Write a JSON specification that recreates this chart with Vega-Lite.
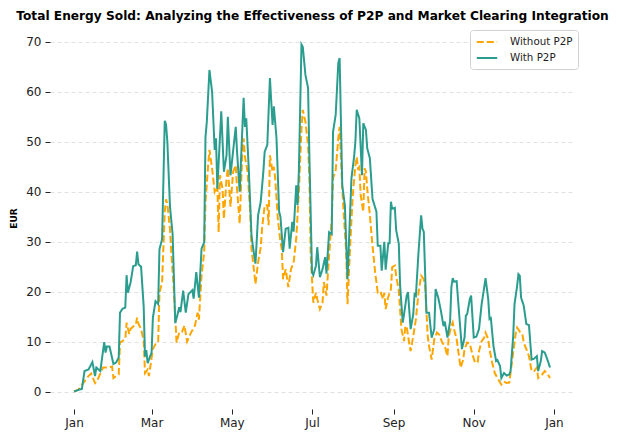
{
  "$schema": "https://vega.github.io/schema/vega-lite/v6.json",
  "width": 525,
  "height": 382,
  "autosize": {"type": "none"},
  "padding": {"left": 50, "top": 27, "right": 42, "bottom": 23},
  "background": "white",
  "config": {
    "view": {"stroke": null},
    "font": "DejaVu Sans",
    "axis": {"labelFont": "DejaVu Sans", "labelFontSize": 12, "labelColor": "#222", "tickColor": "#222", "domain": false},
    "legend": {"symbolType": "M-1.7,0H1.7", "symbolSize": 144, "symbolStrokeWidth": 2, "symbolOffset": 5, "labelOffset": 16}
  },
  "title": {
    "text": "Total Energy Sold: Analyzing the Effectiveness of P2P and Market Clearing Integration",
    "font": "DejaVu Sans",
    "fontSize": 12.2,
    "fontWeight": "bold",
    "color": "#000",
    "anchor": "middle",
    "offset": 5
  },
  "datasets": {
    "without": [
      {"d":"2023-01-01","v":0},{"d":"2023-01-04","v":0.3},{"d":"2023-01-08","v":1.7},{"d":"2023-01-12","v":3.1},{"d":"2023-01-14","v":3.6},{"d":"2023-01-17","v":1.7},{"d":"2023-01-19","v":2.4},{"d":"2023-01-23","v":4.8},{"d":"2023-01-27","v":4.8},{"d":"2023-01-30","v":5},{"d":"2023-01-31","v":2.7},
      {"d":"2023-02-02","v":3.1},{"d":"2023-02-04","v":3.4},{"d":"2023-02-05","v":9.8},{"d":"2023-02-09","v":10.5},{"d":"2023-02-10","v":13.8},{"d":"2023-02-12","v":11.5},{"d":"2023-02-13","v":12.5},{"d":"2023-02-15","v":13},{"d":"2023-02-17","v":13.4},{"d":"2023-02-18","v":14.8},{"d":"2023-02-19","v":13.6},{"d":"2023-02-21","v":12.5},{"d":"2023-02-23","v":10.2},{"d":"2023-02-24","v":3.7},{"d":"2023-02-26","v":4.4},{"d":"2023-02-27","v":3.1},
      {"d":"2023-03-02","v":8.5},{"d":"2023-03-04","v":9.5},{"d":"2023-03-06","v":9.9},{"d":"2023-03-07","v":19.8},{"d":"2023-03-09","v":21.9},{"d":"2023-03-11","v":36},{"d":"2023-03-12","v":38.5},{"d":"2023-03-13","v":37.5},{"d":"2023-03-15","v":32.5},{"d":"2023-03-16","v":28},{"d":"2023-03-18","v":20},{"d":"2023-03-20","v":9.8},{"d":"2023-03-22","v":11.8},{"d":"2023-03-24","v":11.8},{"d":"2023-03-26","v":13.2},{"d":"2023-03-28","v":10},{"d":"2023-03-31","v":11.8},
      {"d":"2023-04-03","v":13.2},{"d":"2023-04-05","v":15.8},{"d":"2023-04-06","v":14.4},{"d":"2023-04-08","v":23.2},{"d":"2023-04-10","v":27.9},{"d":"2023-04-11","v":38},{"d":"2023-04-13","v":45.3},{"d":"2023-04-14","v":48.4},{"d":"2023-04-16","v":44.7},{"d":"2023-04-18","v":40},{"d":"2023-04-20","v":41.2},{"d":"2023-04-21","v":31.9},{"d":"2023-04-22","v":43.3},{"d":"2023-04-24","v":40.6},{"d":"2023-04-25","v":34.6},{"d":"2023-04-27","v":42.7},{"d":"2023-04-28","v":44.7},{"d":"2023-04-30","v":37},
      {"d":"2023-05-02","v":44},{"d":"2023-05-04","v":45.3},{"d":"2023-05-05","v":40.6},{"d":"2023-05-07","v":33.6},{"d":"2023-05-09","v":48},{"d":"2023-05-10","v":50.7},{"d":"2023-05-11","v":47},{"d":"2023-05-13","v":44},{"d":"2023-05-15","v":36},{"d":"2023-05-16","v":28.6},{"d":"2023-05-18","v":23.9},{"d":"2023-05-19","v":21.5},{"d":"2023-05-21","v":25.9},{"d":"2023-05-23","v":28.9},{"d":"2023-05-24","v":32.6},{"d":"2023-05-26","v":37.3},{"d":"2023-05-28","v":37.3},{"d":"2023-05-29","v":33.3},{"d":"2023-05-30","v":47.3},
      {"d":"2023-06-01","v":44},{"d":"2023-06-02","v":45},{"d":"2023-06-03","v":42.7},{"d":"2023-06-05","v":34.6},{"d":"2023-06-07","v":29.9},{"d":"2023-06-08","v":28.6},{"d":"2023-06-09","v":22.5},{"d":"2023-06-11","v":24.5},{"d":"2023-06-13","v":20.9},{"d":"2023-06-15","v":24.5},{"d":"2023-06-17","v":25.8},{"d":"2023-06-19","v":30.6},{"d":"2023-06-21","v":40},{"d":"2023-06-23","v":52.7},{"d":"2023-06-24","v":56.4},{"d":"2023-06-26","v":54},{"d":"2023-06-28","v":49.4},{"d":"2023-06-29","v":42.7},{"d":"2023-06-30","v":27.2},
      {"d":"2023-07-02","v":17.8},{"d":"2023-07-04","v":19.8},{"d":"2023-07-05","v":18.5},{"d":"2023-07-07","v":16.5},{"d":"2023-07-09","v":17.8},{"d":"2023-07-10","v":21.9},{"d":"2023-07-12","v":19.2},{"d":"2023-07-14","v":27.2},{"d":"2023-07-16","v":34.6},{"d":"2023-07-17","v":42.7},{"d":"2023-07-19","v":44.3},{"d":"2023-07-21","v":50.7},{"d":"2023-07-22","v":53},{"d":"2023-07-24","v":40.6},{"d":"2023-07-26","v":31.9},{"d":"2023-07-27","v":27.9},{"d":"2023-07-28","v":17.5},{"d":"2023-07-30","v":29.2},
      {"d":"2023-08-01","v":39.3},{"d":"2023-08-03","v":45.3},{"d":"2023-08-04","v":47},{"d":"2023-08-05","v":44.7},{"d":"2023-08-06","v":45},{"d":"2023-08-07","v":39.3},{"d":"2023-08-09","v":36},{"d":"2023-08-10","v":44.7},{"d":"2023-08-11","v":44},{"d":"2023-08-12","v":40.6},{"d":"2023-08-14","v":35.3},{"d":"2023-08-16","v":29.2},{"d":"2023-08-18","v":23.9},{"d":"2023-08-20","v":19.8},{"d":"2023-08-22","v":20},{"d":"2023-08-24","v":18.5},{"d":"2023-08-25","v":19.8},{"d":"2023-08-26","v":16.5},{"d":"2023-08-28","v":19},{"d":"2023-08-30","v":20.5},{"d":"2023-08-31","v":24.9},
      {"d":"2023-09-02","v":25.2},{"d":"2023-09-03","v":23.2},{"d":"2023-09-05","v":20.2},{"d":"2023-09-07","v":12.5},{"d":"2023-09-09","v":10.1},{"d":"2023-09-10","v":13.1},{"d":"2023-09-11","v":13},{"d":"2023-09-13","v":9.5},{"d":"2023-09-14","v":8.1},{"d":"2023-09-16","v":11.1},{"d":"2023-09-18","v":14.5},{"d":"2023-09-20","v":19.8},{"d":"2023-09-22","v":23.2},{"d":"2023-09-24","v":22.5},{"d":"2023-09-25","v":21.2},{"d":"2023-09-27","v":11.1},{"d":"2023-09-28","v":9.1},{"d":"2023-09-30","v":6.4},
      {"d":"2023-10-02","v":10.5},{"d":"2023-10-04","v":11.8},{"d":"2023-10-06","v":11.3},{"d":"2023-10-08","v":9.8},{"d":"2023-10-10","v":9.1},{"d":"2023-10-12","v":7.1},{"d":"2023-10-13","v":11.1},{"d":"2023-10-15","v":13.1},{"d":"2023-10-16","v":13.8},{"d":"2023-10-17","v":12.5},{"d":"2023-10-19","v":10.5},{"d":"2023-10-20","v":8.5},{"d":"2023-10-22","v":4.8},{"d":"2023-10-24","v":6.4},{"d":"2023-10-25","v":8.5},{"d":"2023-10-27","v":9.8},{"d":"2023-10-29","v":9.6},{"d":"2023-10-31","v":7.4},
      {"d":"2023-11-02","v":5.8},{"d":"2023-11-04","v":5.9},{"d":"2023-11-05","v":8.1},{"d":"2023-11-07","v":10.1},{"d":"2023-11-09","v":10.8},{"d":"2023-11-10","v":11.8},{"d":"2023-11-12","v":10.5},{"d":"2023-11-13","v":8.5},{"d":"2023-11-15","v":5.8},{"d":"2023-11-17","v":3.7},{"d":"2023-11-19","v":2.7},{"d":"2023-11-22","v":1.4},{"d":"2023-11-24","v":2},{"d":"2023-11-26","v":1.7},{"d":"2023-11-28","v":1.8},{"d":"2023-11-29","v":3.7},
      {"d":"2023-12-01","v":7.8},{"d":"2023-12-03","v":11.8},{"d":"2023-12-04","v":12.8},{"d":"2023-12-06","v":12},{"d":"2023-12-08","v":11.5},{"d":"2023-12-09","v":9.8},{"d":"2023-12-11","v":8.5},{"d":"2023-12-13","v":7.1},{"d":"2023-12-15","v":4.1},{"d":"2023-12-17","v":4.1},{"d":"2023-12-19","v":4.8},{"d":"2023-12-20","v":2.7},{"d":"2023-12-23","v":3.4},{"d":"2023-12-25","v":4.1},{"d":"2023-12-27","v":3.6},{"d":"2023-12-29","v":2.7}
    ],
    "with": [
      {"d":"2023-01-01","v":0},{"d":"2023-01-04","v":0.3},{"d":"2023-01-07","v":0.5},{"d":"2023-01-09","v":4.1},{"d":"2023-01-12","v":4.4},{"d":"2023-01-15","v":5.9},{"d":"2023-01-17","v":3.1},{"d":"2023-01-18","v":4.8},{"d":"2023-01-21","v":4.1},{"d":"2023-01-24","v":9.9},{"d":"2023-01-25","v":7.8},{"d":"2023-01-26","v":9},{"d":"2023-01-28","v":9},{"d":"2023-01-31","v":5.5},
      {"d":"2023-02-02","v":5.8},{"d":"2023-02-04","v":6.8},{"d":"2023-02-05","v":15.8},{"d":"2023-02-07","v":16.6},{"d":"2023-02-09","v":16.8},{"d":"2023-02-10","v":23.3},{"d":"2023-02-11","v":19.8},{"d":"2023-02-13","v":21.8},{"d":"2023-02-15","v":25.1},{"d":"2023-02-17","v":25.3},{"d":"2023-02-18","v":28},{"d":"2023-02-19","v":25.5},{"d":"2023-02-21","v":25},{"d":"2023-02-23","v":17},{"d":"2023-02-24","v":7},{"d":"2023-02-25","v":8.3},{"d":"2023-02-26","v":5.7},
      {"d":"2023-03-01","v":7.8},{"d":"2023-03-02","v":14.8},{"d":"2023-03-04","v":18.1},{"d":"2023-03-06","v":17.5},{"d":"2023-03-07","v":28.5},{"d":"2023-03-09","v":30.5},{"d":"2023-03-11","v":54.2},{"d":"2023-03-12","v":53.5},{"d":"2023-03-13","v":50},{"d":"2023-03-15","v":37},{"d":"2023-03-17","v":31.5},{"d":"2023-03-19","v":13.7},{"d":"2023-03-21","v":15.7},{"d":"2023-03-22","v":16.9},{"d":"2023-03-23","v":15.9},{"d":"2023-03-25","v":20.2},{"d":"2023-03-27","v":15.8},{"d":"2023-03-29","v":19.5},
      {"d":"2023-04-01","v":20.3},{"d":"2023-04-02","v":18.6},{"d":"2023-04-04","v":23.9},{"d":"2023-04-06","v":18.8},{"d":"2023-04-08","v":28.6},{"d":"2023-04-10","v":29.9},{"d":"2023-04-11","v":51},{"d":"2023-04-12","v":54},{"d":"2023-04-14","v":64.4},{"d":"2023-04-16","v":60.1},{"d":"2023-04-18","v":48.4},{"d":"2023-04-19","v":50.7},{"d":"2023-04-20","v":40.6},{"d":"2023-04-23","v":56.1},{"d":"2023-04-25","v":44},{"d":"2023-04-27","v":47.3},{"d":"2023-04-28","v":55},{"d":"2023-04-30","v":43.3},
      {"d":"2023-05-04","v":53},{"d":"2023-05-05","v":48},{"d":"2023-05-07","v":40},{"d":"2023-05-10","v":58.8},{"d":"2023-05-11","v":53},{"d":"2023-05-12","v":54.7},{"d":"2023-05-14","v":44},{"d":"2023-05-16","v":31.2},{"d":"2023-05-17","v":29.2},{"d":"2023-05-19","v":25.6},{"d":"2023-05-21","v":35.3},{"d":"2023-05-23","v":38},{"d":"2023-05-25","v":44},{"d":"2023-05-26","v":48},{"d":"2023-05-28","v":49.4},{"d":"2023-05-30","v":62.8},
      {"d":"2023-06-01","v":53.4},{"d":"2023-06-02","v":57.1},{"d":"2023-06-04","v":50.7},{"d":"2023-06-06","v":36},{"d":"2023-06-07","v":35},{"d":"2023-06-09","v":27.9},{"d":"2023-06-11","v":32.6},{"d":"2023-06-13","v":32.8},{"d":"2023-06-14","v":28.6},{"d":"2023-06-16","v":34},{"d":"2023-06-17","v":32},{"d":"2023-06-19","v":41.3},{"d":"2023-06-20","v":37.3},{"d":"2023-06-21","v":44},{"d":"2023-06-23","v":69.5},{"d":"2023-06-24","v":69},{"d":"2023-06-26","v":63.4},{"d":"2023-06-28","v":60.8},{"d":"2023-06-29","v":47.3},
      {"d":"2023-07-01","v":23.9},{"d":"2023-07-02","v":23.3},{"d":"2023-07-04","v":25.2},{"d":"2023-07-05","v":28.9},{"d":"2023-07-07","v":22.9},{"d":"2023-07-09","v":24.5},{"d":"2023-07-11","v":26.9},{"d":"2023-07-12","v":23.6},{"d":"2023-07-14","v":31.9},{"d":"2023-07-16","v":31.5},{"d":"2023-07-17","v":52},{"d":"2023-07-19","v":55.4},{"d":"2023-07-21","v":65.8},{"d":"2023-07-22","v":66.8},{"d":"2023-07-24","v":41.3},{"d":"2023-07-26","v":37.3},{"d":"2023-07-28","v":22.5},{"d":"2023-07-31","v":42.7},
      {"d":"2023-08-02","v":47},{"d":"2023-08-03","v":50},{"d":"2023-08-04","v":56.4},{"d":"2023-08-06","v":54.7},{"d":"2023-08-08","v":43.3},{"d":"2023-08-09","v":53.7},{"d":"2023-08-11","v":52.4},{"d":"2023-08-12","v":48.7},{"d":"2023-08-14","v":46.7},{"d":"2023-08-16","v":38.6},{"d":"2023-08-19","v":36},{"d":"2023-08-20","v":29.2},{"d":"2023-08-22","v":29.2},{"d":"2023-08-23","v":24.2},{"d":"2023-08-25","v":30},{"d":"2023-08-26","v":24.4},{"d":"2023-08-28","v":29.7},{"d":"2023-08-29","v":29.7},{"d":"2023-08-30","v":38},{"d":"2023-08-31","v":36.6},
      {"d":"2023-09-02","v":36.8},{"d":"2023-09-03","v":32.3},{"d":"2023-09-05","v":29.6},{"d":"2023-09-06","v":21.2},{"d":"2023-09-08","v":13.8},{"d":"2023-09-09","v":15.5},{"d":"2023-09-11","v":19.2},{"d":"2023-09-12","v":19.9},{"d":"2023-09-14","v":12.5},{"d":"2023-09-16","v":15.5},{"d":"2023-09-17","v":19.5},{"d":"2023-09-18","v":19.2},{"d":"2023-09-20","v":27.9},{"d":"2023-09-22","v":35.3},{"d":"2023-09-23","v":32.6},{"d":"2023-09-24","v":32},{"d":"2023-09-26","v":15.8},{"d":"2023-09-28","v":15.8},{"d":"2023-09-30","v":10.8},
      {"d":"2023-10-02","v":12.5},{"d":"2023-10-03","v":20.5},{"d":"2023-10-05","v":18.8},{"d":"2023-10-07","v":16.2},{"d":"2023-10-09","v":13.1},{"d":"2023-10-10","v":14},{"d":"2023-10-12","v":10.8},{"d":"2023-10-14","v":14},{"d":"2023-10-15","v":20.9},{"d":"2023-10-16","v":22.7},{"d":"2023-10-17","v":22},{"d":"2023-10-19","v":22.1},{"d":"2023-10-21","v":15.2},{"d":"2023-10-23","v":8.5},{"d":"2023-10-25","v":10.8},{"d":"2023-10-26","v":15.2},{"d":"2023-10-27","v":15.5},{"d":"2023-10-29","v":18.5},{"d":"2023-10-30","v":19.2},
      {"d":"2023-11-01","v":10.8},{"d":"2023-11-03","v":11},{"d":"2023-11-05","v":12.5},{"d":"2023-11-07","v":17.5},{"d":"2023-11-08","v":19.2},{"d":"2023-11-10","v":22.7},{"d":"2023-11-12","v":18.5},{"d":"2023-11-13","v":14.5},{"d":"2023-11-14","v":14.7},{"d":"2023-11-16","v":9.1},{"d":"2023-11-18","v":6.1},{"d":"2023-11-19","v":6.3},{"d":"2023-11-21","v":5.1},{"d":"2023-11-22","v":2.7},{"d":"2023-11-24","v":3.7},{"d":"2023-11-26","v":3.2},{"d":"2023-11-28","v":3.4},{"d":"2023-11-29","v":4.1},
      {"d":"2023-12-01","v":11.1},{"d":"2023-12-02","v":17.5},{"d":"2023-12-04","v":21.2},{"d":"2023-12-05","v":23.5},{"d":"2023-12-06","v":23.2},{"d":"2023-12-07","v":18.8},{"d":"2023-12-09","v":17.2},{"d":"2023-12-11","v":13.5},{"d":"2023-12-13","v":13.3},{"d":"2023-12-14","v":9.8},{"d":"2023-12-15","v":6.4},{"d":"2023-12-17","v":6.6},{"d":"2023-12-19","v":7.1},{"d":"2023-12-20","v":4.1},{"d":"2023-12-22","v":6.1},{"d":"2023-12-23","v":8.1},{"d":"2023-12-25","v":7.8},{"d":"2023-12-27","v":6.4},{"d":"2023-12-29","v":4.8}
    ]
  },
  "encoding": {
    "x": {
      "field": "d", "type": "temporal",
      "scale": {"type": "utc", "domain": [{"year": 2022, "month": 12, "date": 13, "hours": 18, "utc": true}, {"year": 2024, "month": 1, "date": 17, "utc": true}], "nice": false},
      "axis": {
        "title": null, "format": "%b", "grid": false, "tickSize": 5, "labelPadding": 3,
        "values": [
          {"year": 2023, "month": 1, "date": 1, "utc": true},
          {"year": 2023, "month": 3, "date": 1, "utc": true},
          {"year": 2023, "month": 5, "date": 1, "utc": true},
          {"year": 2023, "month": 7, "date": 1, "utc": true},
          {"year": 2023, "month": 9, "date": 1, "utc": true},
          {"year": 2023, "month": 11, "date": 1, "utc": true},
          {"year": 2024, "month": 1, "date": 1, "utc": true}
        ]
      }
    },
    "y": {
      "field": "v", "type": "quantitative",
      "scale": {"domain": [-3.5, 73], "nice": false, "zero": false},
      "axis": {
        "title": "EUR", "titleFontSize": 9, "titleFontWeight": "bold", "titleColor": "#000", "titlePadding": 7,
        "values": [0, 10, 20, 30, 40, 50, 60, 70], "tickSize": 5, "labelPadding": 4,
        "grid": true, "gridDash": [4, 3], "gridColor": "#d9d9d9", "gridWidth": 0.8
      }
    },
    "color": {
      "field": "s", "type": "nominal",
      "scale": {"domain": ["Without P2P", "With P2P"], "range": ["#ffa500", "#2a9d8f"]},
      "legend": {
        "title": null, "orient": "none", "legendX": 420, "legendY": 3,
        "labelFontSize": 10.3, "labelColor": "#222", "labelFont": "DejaVu Sans",
        "strokeColor": "#d0d0d0", "fillColor": "white", "cornerRadius": 3, "padding": 5, "rowPadding": 3
      }
    },
    "strokeDash": {
      "field": "s", "type": "nominal",
      "scale": {"domain": ["Without P2P", "With P2P"], "range": [[7, 3], [1, 0]]},
      "legend": {
        "title": null, "orient": "none", "legendX": 420, "legendY": 3,
        "labelFontSize": 10.3, "labelColor": "#222", "labelFont": "DejaVu Sans",
        "strokeColor": "#d0d0d0", "fillColor": "white", "cornerRadius": 3, "padding": 5, "rowPadding": 3
      }
    }
  },
  "layer": [
    {
      "data": {"name": "without"},
      "mark": {"type": "line", "strokeWidth": 2, "interpolate": "linear"},
      "encoding": {"color": {"datum": "Without P2P", "type": "nominal"}, "strokeDash": {"datum": "Without P2P", "type": "nominal"}}
    },
    {
      "data": {"name": "with"},
      "mark": {"type": "line", "strokeWidth": 2, "interpolate": "linear"},
      "encoding": {"color": {"datum": "With P2P", "type": "nominal"}, "strokeDash": {"datum": "With P2P", "type": "nominal"}}
    }
  ]
}
